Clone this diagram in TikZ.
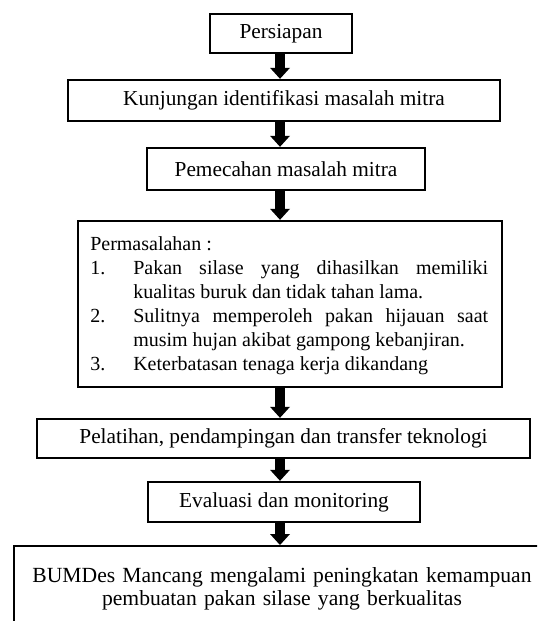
\documentclass[tikz,border=0pt]{standalone}
\usepackage{fontspec}
\setmainfont{Liberation Serif}
\usetikzlibrary{arrows.meta}

\begin{document}
\begin{tikzpicture}[x=0.75pt, y=-0.75pt,
        kotak/.style={draw, line width=1.8pt, inner sep=0pt, font=\fontsize{16}{18}\selectfont},
        teks/.style={inner sep=0pt, font=\fontsize{16}{18}\selectfont},
        panah/.style={line width=7.5pt, -{Triangle[width=15pt, length=8.25pt, line width=0pt]}}]
        \useasboundingbox (0,0) rectangle (537,621);
        \clip (0,0) rectangle (537,621);

        \node[kotak, minimum width=106.5pt, minimum height=29.25pt] (siap) at (281,33.5) {Persiapan};
        \node[kotak, minimum width=324pt, minimum height=30.75pt] (kunjung) at (284,100.5) {Kunjungan identifikasi masalah mitra};
        \node[kotak, minimum width=208.5pt, minimum height=31.5pt] (pecah) at (286,169) {Pemecahan masalah mitra};
        \node[kotak, minimum width=318pt, minimum height=124.5pt] (masalah) at (290,304) {};
        \node[kotak, minimum width=369.75pt, minimum height=29.25pt] (latih) at (283.5,438.5) {Pelatihan, pendampingan dan transfer teknologi};
        \node[kotak, minimum width=204pt, minimum height=30pt] (evaluasi) at (284,502) {Evaluasi dan monitoring};
        \node[kotak, anchor=north west, minimum width=402pt, minimum height=90pt] (hasil) at (13,545) {};

        % isi kotak permasalahan
        \node[teks, anchor=base west, text width=298.5pt, align=justify, font=\fontsize{15}{18}\selectfont] (masalahtxt) at (90,250) {%
            \hyphenpenalty=10000 \tolerance=10000 \hbadness=10000
            Permasalahan :\par
            \noindent\hangindent=32.25pt \makebox[32.25pt][l]{1.}Pakan silase yang dihasilkan memiliki kualitas buruk dan tidak tahan lama.\par
            \noindent\hangindent=32.25pt \makebox[32.25pt][l]{2.}Sulitnya memperoleh pakan hijauan saat musim hujan akibat gampong kebanjiran.\par
            \noindent\hangindent=32.25pt \makebox[32.25pt][l]{3.}Keterbatasan tenaga kerja dikandang\par};
        \node[teks, anchor=base, text width=402pt, align=center, font=\fontsize{16.2}{17.25}\selectfont] (hasiltxt) at (282,582)
            {BUMDes Mancang mengalami peningkatan kemampuan\\ pembuatan pakan silase yang berkualitas};

        \coordinate (ax) at (280,0);
        \draw[panah] (siap.south -| ax) -- (kunjung.north -| ax);
        \draw[panah] (kunjung.south -| ax) -- (pecah.north -| ax);
        \draw[panah] (pecah.south -| ax) -- (masalah.north -| ax);
        \draw[panah] (masalah.south -| ax) -- (latih.north -| ax);
        \draw[panah] (latih.south -| ax) -- (evaluasi.north -| ax);
        \draw[panah] (evaluasi.south -| ax) -- (hasil.north -| ax);
\end{tikzpicture}
\end{document}
